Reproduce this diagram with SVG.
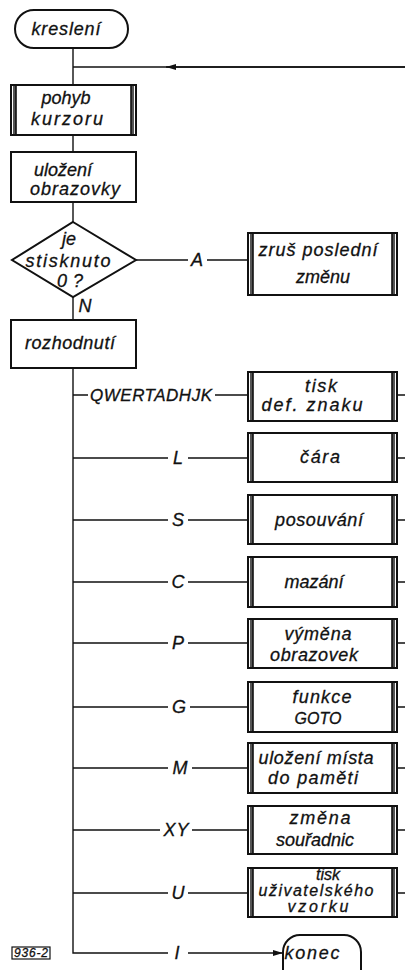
<svg xmlns="http://www.w3.org/2000/svg" width="405" height="970" viewBox="0 0 405 970">
<defs>
<style>
text{font-family:"Liberation Sans",Arial,sans-serif;font-style:italic;font-size:18px;fill:#111;stroke:#111;stroke-width:0.3;text-anchor:middle}
.box{fill:#fff;stroke:#111;stroke-width:2}
.inner{stroke:#111;stroke-width:1.6;fill:none}
.gap{fill:#555}
.ln{stroke:#111;stroke-width:1.4;fill:none}
.sm{font-size:12px}
.tight{font-size:16px}
</style>
<marker id="arr" viewBox="0 0 10 6" refX="10" refY="3" markerWidth="11" markerHeight="6" markerUnits="userSpaceOnUse" orient="auto">
<path d="M0,0 L10,3 L0,6 Z" fill="#111"/>
</marker>
</defs>

<g id="connectors">
<path class="ln" d="M73,48 V85 M73,135 V152 M73,202 V222 M73,297 V320 M73,368 V953 H168"/>
<path class="ln" d="M405,67 H73"/>
<path class="ln" d="M405,67 H166" marker-end="url(#arr)"/>
<path class="ln" d="M188,953 H283" marker-end="url(#arr)"/>
<path class="ln" d="M136,260 H188 M207,260 H248"/>
<path class="ln" d="M73,395 H88 M215,395 H248"/>
<path class="ln" d="M73,458 H168 M188,458 H248"/>
<path class="ln" d="M73,520 H168 M188,520 H248"/>
<path class="ln" d="M73,582 H168 M188,582 H248"/>
<path class="ln" d="M73,643 H168 M188,643 H248"/>
<path class="ln" d="M73,707 H168 M190,707 H248"/>
<path class="ln" d="M73,768 H168 M192,768 H248"/>
<path class="ln" d="M73,830 H160 M192,830 H248"/>
<path class="ln" d="M73,893 H168 M188,893 H248"/>
<path class="ln" d="M397,395 H405 M397,458 H405 M397,520 H405 M397,582 H405 M397,643 H405 M397,707 H405 M397,768 H405 M397,830 H405 M397,893 H405"/>
<text x="197" y="266">A</text>
<text x="85" y="312">N</text>
<text x="151" y="401" style="font-size:17px" textLength="122" lengthAdjust="spacing">QWERTADHJK</text>
<text x="178" y="464">L</text>
<text x="178" y="526">S</text>
<text x="178" y="588">C</text>
<text x="178" y="649">P</text>
<text x="179" y="713">G</text>
<text x="180" y="774">M</text>
<text x="176" y="836" textLength="25" lengthAdjust="spacing">XY</text>
<text x="178" y="899">U</text>
<text x="177" y="959">I</text>
</g>

<g id="start">
<rect class="box" x="15" y="10" width="113" height="38" rx="19"/>
<text x="66" y="35" textLength="69" lengthAdjust="spacing">kreslení</text>
</g>

<g id="pohyb">
<rect class="box" x="11" y="85" width="125" height="50"/>
<rect class="gap" x="13" y="86" width="3" height="48"/>
<rect class="gap" x="131" y="86" width="3" height="48"/>
<path class="inner" d="M16,85 V135 M131,85 V135"/>
<text x="66" y="104">pohyb</text>
<text x="67" y="125" textLength="72" lengthAdjust="spacing">kurzoru</text>
</g>

<g id="ulozeni">
<rect class="box" x="11" y="152" width="125" height="50"/>
<text x="63" y="176">uložení</text>
<text x="75" y="195" textLength="90" lengthAdjust="spacing">obrazovky</text>
</g>

<g id="decision">
<path class="box" d="M73,222 L136,260 L73,297 L12,260 Z"/>
<text x="69" y="245">je</text>
<text x="68" y="267" textLength="85" lengthAdjust="spacing">stisknuto</text>
<text x="70" y="287" textLength="26" lengthAdjust="spacing">0 ?</text>
</g>

<g id="zrus">
<rect class="box" x="248" y="233" width="149" height="62"/>
<rect class="gap" x="250" y="234" width="3" height="60"/>
<rect class="gap" x="392" y="234" width="3" height="60"/>
<path class="inner" d="M253,233 V295 M392,233 V295"/>
<text x="318" y="256" textLength="119" lengthAdjust="spacing">zruš poslední</text>
<text x="323" y="283">změnu</text>
</g>

<g id="rozhodnuti">
<rect class="box" x="11" y="320" width="125" height="48"/>
<text x="70" y="349" textLength="90" lengthAdjust="spacing">rozhodnutí</text>
</g>

<g id="tisk">
<rect class="box" x="248" y="372" width="149" height="49"/>
<rect class="gap" x="250" y="373" width="3" height="47"/>
<rect class="gap" x="392" y="373" width="3" height="47"/>
<path class="inner" d="M253,372 V421 M392,372 V421"/>
<text x="321" y="392" textLength="32" lengthAdjust="spacing">tisk</text>
<text x="312" y="411" textLength="101" lengthAdjust="spacing">def.  znaku</text>
</g>

<g id="cara">
<rect class="box" x="248" y="433" width="149" height="49"/>
<rect class="gap" x="250" y="434" width="3" height="47"/>
<rect class="gap" x="392" y="434" width="3" height="47"/>
<path class="inner" d="M253,433 V482 M392,433 V482"/>
<text x="320" y="463" textLength="40" lengthAdjust="spacing">čára</text>
</g>

<g id="posouvani">
<rect class="box" x="248" y="495" width="149" height="49"/>
<rect class="gap" x="250" y="496" width="3" height="47"/>
<rect class="gap" x="392" y="496" width="3" height="47"/>
<path class="inner" d="M253,495 V544 M392,495 V544"/>
<text x="319" y="526" textLength="88" lengthAdjust="spacing">posouvání</text>
</g>

<g id="mazani">
<rect class="box" x="248" y="557" width="149" height="50"/>
<rect class="gap" x="250" y="558" width="3" height="48"/>
<rect class="gap" x="392" y="558" width="3" height="48"/>
<path class="inner" d="M253,557 V607 M392,557 V607"/>
<text x="314" y="588">mazání</text>
</g>

<g id="vymena">
<rect class="box" x="248" y="619" width="149" height="49"/>
<rect class="gap" x="250" y="620" width="3" height="47"/>
<rect class="gap" x="392" y="620" width="3" height="47"/>
<path class="inner" d="M253,619 V668 M392,619 V668"/>
<text x="318" y="640" textLength="67" lengthAdjust="spacing">výměna</text>
<text x="314" y="661" textLength="88" lengthAdjust="spacing">obrazovek</text>
</g>

<g id="goto">
<rect class="box" x="248" y="682" width="149" height="50"/>
<rect class="gap" x="250" y="683" width="3" height="48"/>
<rect class="gap" x="392" y="683" width="3" height="48"/>
<path class="inner" d="M253,682 V732 M392,682 V732"/>
<text x="322" y="703" textLength="59" lengthAdjust="spacing">funkce</text>
<text x="318" y="724" style="font-size:16px">GOTO</text>
</g>

<g id="misto">
<rect class="box" x="248" y="743" width="149" height="50"/>
<rect class="gap" x="250" y="744" width="3" height="48"/>
<rect class="gap" x="392" y="744" width="3" height="48"/>
<path class="inner" d="M253,743 V793 M392,743 V793"/>
<text x="316" y="764" textLength="115" lengthAdjust="spacing">uložení místa</text>
<text x="313" y="784" textLength="90" lengthAdjust="spacing">do paměti</text>
</g>

<g id="souradnic">
<rect class="box" x="248" y="806" width="149" height="48"/>
<rect class="gap" x="250" y="807" width="3" height="46"/>
<rect class="gap" x="392" y="807" width="3" height="46"/>
<path class="inner" d="M253,806 V854 M392,806 V854"/>
<text x="320" y="824" textLength="61" lengthAdjust="spacing">změna</text>
<text x="315" y="846">souřadnic</text>
</g>

<g id="vzorku">
<rect class="box" x="248" y="868" width="149" height="49"/>
<rect class="gap" x="250" y="869" width="3" height="47"/>
<rect class="gap" x="392" y="869" width="3" height="47"/>
<path class="inner" d="M253,868 V917 M392,868 V917"/>
<text class="tight" x="328" y="880">tisk</text>
<text class="tight" x="316" y="896" textLength="115" lengthAdjust="spacing">uživatelského</text>
<text class="tight" x="318" y="912" textLength="61" lengthAdjust="spacing">vzorku</text>
</g>

<g id="konec">
<path class="box" d="M283,970 V952 A17,17 0 0 1 300,935 H344 A17,17 0 0 1 361,952 V970"/>
<text x="312" y="959" textLength="55" lengthAdjust="spacing">konec</text>
</g>

<g id="label">
<rect x="12" y="947" width="38" height="12" fill="#fff" stroke="#111" stroke-width="1.2"/>
<text class="sm" x="31" y="957" textLength="34" lengthAdjust="spacing">936-2</text>
</g>
</svg>
